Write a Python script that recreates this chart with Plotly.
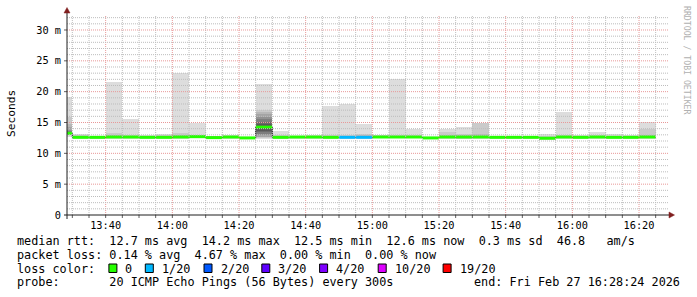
import plotly.graph_objects as go
import pandas as pd

DAY = "2026-02-27"
RANGE_START = "13:28:24"
RANGE_END = "16:28:24"

# 5-minute measurement intervals (start times)
starts = ["13:25", "13:30", "13:35", "13:40", "13:45", "13:50", "13:55", "14:00", "14:05",
          "14:10", "14:15", "14:20", "14:25", "14:30", "14:35", "14:40", "14:45", "14:50",
          "14:55", "15:00", "15:05", "15:10", "15:15", "15:20", "15:25", "15:30", "15:35",
          "15:40", "15:45", "15:50", "15:55", "16:00", "16:05", "16:10", "16:15", "16:20"]

# median rtt (ms)
median = [13.25, 12.6, 12.6, 12.65, 12.65, 12.6, 12.6, 12.65, 12.7, 12.55, 12.65, 12.5,
          14.25, 12.6, 12.65, 12.65, 12.6, 12.6, 12.6, 12.65, 12.65, 12.65, 12.5, 12.65,
          12.65, 12.65, 12.6, 12.6, 12.6, 12.45, 12.65, 12.6, 12.65, 12.6, 12.6, 12.65]

# lost pings out of 20
loss = [0, 0, 0, 0, 0, 0, 0, 0, 0, 0, 0, 0, 0, 0, 0, 0, 0, 1,
        1, 0, 0, 0, 0, 0, 0, 0, 0, 0, 0, 0, 0, 0, 0, 0, 0, 0]

# smoke: highest, 2nd and 3rd highest ping, two lowest pings (ms)
ping_max = [19.2, 13.1, 12.8, 21.6, 15.5, 12.9, 13.1, 23.1, 14.9, 12.8, 12.9, 12.7,
            21.2, 13.7, 12.8, 12.9, 17.7, 18.0, 14.8, 13.0, 22.05, 13.9, 12.7, 13.9,
            14.2, 14.9, 12.8, 12.8, 12.8, 13.2, 16.75, 13.0, 13.5, 13.1, 13.0, 15.1]
ping_2nd = [15.9, 12.9, 12.7, 13.3, 13.0, 12.8, 12.9, 13.3, 13.0, 12.7, 12.8, 12.6,
            17.0, 12.9, 12.7, 12.8, 13.0, 12.9, 13.1, 12.9, 13.0, 12.9, 12.6, 13.5,
            13.2, 14.85, 12.7, 12.7, 12.7, 12.8, 13.0, 12.8, 12.9, 12.8, 12.8, 13.9]
ping_3rd = [14.8, 12.8, 12.7, 13.0, 12.8, 12.7, 12.8, 13.0, 12.9, 12.7, 12.7, 12.6,
            16.7, 12.8, 12.7, 12.7, 12.8, 12.8, 12.9, 12.8, 12.8, 12.8, 12.6, 13.0,
            13.0, 13.1, 12.7, 12.7, 12.7, 12.6, 12.8, 12.7, 12.8, 12.7, 12.7, 13.0]
ping_min = [12.7, 12.3, 12.3, 12.4, 12.4, 12.3, 12.4, 12.4, 12.5, 12.4, 12.4, 12.4,
            12.4, 12.3, 12.4, 12.4, 12.4, 12.4, 12.4, 12.5, 12.5, 12.5, 12.3, 12.4,
            12.3, 12.4, 12.4, 12.4, 12.4, 12.2, 12.4, 12.4, 12.4, 12.4, 12.4, 12.4]
ping_2nd_min = [12.9, 12.45, 12.45, 12.5, 12.5, 12.45, 12.5, 12.5, 12.6, 12.5, 12.5, 12.45,
                12.5, 12.4, 12.5, 12.5, 12.5, 12.5, 12.5, 12.55, 12.55, 12.55, 12.4, 12.5,
                12.4, 12.5, 12.5, 12.5, 12.5, 12.3, 12.5, 12.5, 12.5, 12.5, 12.5, 12.5]

# full 20-ping spreads for the two noisy intervals
pings_1325 = [12.7, 12.9, 13.0, 13.1, 13.1, 13.2, 13.2, 13.2, 13.3, 13.3,
              13.3, 13.4, 13.4, 13.5, 13.6, 13.8, 14.2, 14.8, 15.9, 19.2]
pings_1425 = [12.4, 12.5, 12.6, 12.7, 12.9, 13.1, 13.4, 13.7, 14.0, 14.2,
              14.3, 14.5, 14.8, 15.1, 15.5, 15.9, 16.3, 16.7, 17.0, 21.2]
special = {"13:25": pings_1325, "14:25": pings_1425}

loss_levels = [0, 1, 2, 3, 4, 10, 19]
loss_labels = ["0", "1/20", "2/20", "3/20", "4/20", "10/20", "19/20"]
loss_colors = ["#26ff00", "#00b8ff", "#0059ff", "#5e00ff", "#7e00ff", "#dd00ff", "#ff0000"]

legend_line1 = "median rtt:  12.7 ms avg  14.2 ms max  12.5 ms min  12.6 ms now  0.3 ms sd  46.8   am/s"
legend_line2 = "packet loss: 0.14 % avg  4.67 % max  0.00 % min  0.00 % now"
legend_line3 = "loss color:"
probe_text = "probe:       20 ICMP Echo Pings (56 Bytes) every 300s"
end_text = "end: Fri Feb 27 16:28:24 2026"

# ---------------------------------------------------------------
MONO = "DejaVu Sans Mono"
L, R, T, B = 67, 30, 15, 82
W, H = 697, 297
PW, PH = W - L - R, H - T - B


def px(x):
    return (x - L) / PW


def py(y):
    return (H - B - y) / PH


step = pd.Timedelta(minutes=5)
st = [pd.Timestamp(f"{DAY} {s}") for s in starts]
fmt = "%Y-%m-%d %H:%M:%S"
centers = [(s + step / 2).strftime(fmt) for s in st]
x_start = [s.strftime(fmt) for s in st]
x_end = [(s + step).strftime(fmt) for s in st]

pings = []
for i, s in enumerate(starts):
    if s in special:
        p = sorted(special[s])
    else:
        p = sorted([ping_min[i], ping_2nd_min[i]] + [median[i]] * 15 +
                   [ping_3rd[i], ping_2nd[i], ping_max[i]])
    pings.append(p)

fig = go.Figure()
half = 10
for k in range(1, half + 1):
    g = int(190 / half * (half - k)) + 50
    base = [p[k - 1] for p in pings]
    top = [p[20 - k] for p in pings]
    fig.add_trace(go.Bar(x=centers, y=[t - b for t, b in zip(top, base)], base=base,
                         width=300000, marker=dict(color=f"rgb({g},{g},{g})", line=dict(width=0)),
                         showlegend=False, hoverinfo="skip"))

# thin dark median step
fig.add_trace(go.Scatter(x=x_start + [x_end[-1]], y=median + [median[-1]], mode="lines",
                         line=dict(color="#202020", width=1, shape="hv"),
                         showlegend=False, hoverinfo="skip"))

# coloured median segments by loss
def loss_color(n):
    idx = 0
    for j, lv in enumerate(loss_levels):
        if n >= lv:
            idx = j
    return loss_colors[idx]

segs = {}
for i in range(len(starts)):
    c = loss_color(loss[i])
    xs, ys = segs.setdefault(c, ([], []))
    xs += [x_start[i], x_end[i], None]
    ys += [median[i], median[i], None]
for c, (xs, ys) in segs.items():
    fig.add_trace(go.Scatter(x=xs, y=ys, mode="lines", line=dict(color=c, width=3),
                             showlegend=False, hoverinfo="skip"))

shapes = []
MINOR = "#bdbdbd"
MAJOR = "#e89898"
# vertical grid + x ticks
t = st[1]
t_end = pd.Timestamp(f"{DAY} {RANGE_END}")
while t < t_end:
    major = (t.minute % 20 == 0)
    ts = t.strftime(fmt)
    shapes.append(dict(type="line", xref="x", yref="paper", x0=ts, x1=ts, y0=0, y1=1,
                       line=dict(color=MAJOR if major else MINOR, width=1, dash="1px,1px"),
                       layer="above"))
    shapes.append(dict(type="line", xref="x", yref="paper", x0=ts, x1=ts, y0=py(215), y1=py(218),
                       line=dict(color="#606060", width=1), layer="above"))
    t += step
# horizontal grid
for v in range(1, 33):
    major = (v % 5 == 0)
    shapes.append(dict(type="line", xref="paper", yref="y", x0=0, x1=px(669), y0=v, y1=v,
                       line=dict(color=MAJOR if major else MINOR, width=1, dash="1px,1px"),
                       layer="above"))
    if major:
        shapes.append(dict(type="line", xref="paper", yref="y", x0=px(64), x1=px(67), y0=v, y1=v,
                           line=dict(color="#606060", width=1), layer="above"))
# axes
shapes.append(dict(type="line", xref="paper", yref="paper", x0=px(64), x1=px(670), y0=0, y1=0,
                   line=dict(color="#1f1f1f", width=1), layer="above"))
shapes.append(dict(type="line", xref="paper", yref="paper", x0=0, x1=0, y0=py(219), y1=py(12),
                   line=dict(color="#1f1f1f", width=1), layer="above"))
shapes.append(dict(type="path", xref="paper", yref="paper",
                   path=f"M {px(669)},{py(212)} L {px(674.5)},{py(215)} L {px(669)},{py(218)} Z",
                   fillcolor="#801f1f", line=dict(color="#801f1f", width=0.5), layer="above"))
shapes.append(dict(type="path", xref="paper", yref="paper",
                   path=f"M {px(64)},{py(13)} L {px(67)},{py(7.5)} L {px(70)},{py(13)} Z",
                   fillcolor="#801f1f", line=dict(color="#801f1f", width=0.5), layer="above"))

annotations = []
def text(s, x, y, size=11.8, xanchor="left", color="#000000", angle=0, yanchor="middle"):
    annotations.append(dict(text=s, x=px(x), y=py(y), xref="paper", yref="paper",
                            xanchor=xanchor, yanchor=yanchor, showarrow=False, borderpad=0,
                            textangle=angle, font=dict(family=MONO, size=size, color=color)))

text(legend_line1, 16, 241)
text(legend_line2, 16, 255)
text(legend_line3, 16, 268.5)
text(probe_text, 16, 282)
text(end_text, 681, 282, xanchor="right")
box_x = [108.9, 145.3, 204, 261.8, 319.6, 378.2, 443.1]
for bx, lab, col in zip(box_x, loss_labels, loss_colors):
    shapes.append(dict(type="rect", xref="paper", yref="paper", x0=px(bx), x1=px(bx + 8),
                       y0=py(272.5), y1=py(264), fillcolor=col, line=dict(color="#000000", width=1)))
    text(lab, bx + 15.5, 268.5)

text("Seconds", 11, 114, size=11.2, xanchor="center", angle=-90)
text("RRDTOOL / TOBI OETIKER", 687, 60, size=8.2, xanchor="center", angle=90, color="#b0b0b0")

yvals = [0, 5, 10, 15, 20, 25, 30]
ytext = ["0"] + [f"{v} m" for v in yvals[1:]]
xticks = [x_start[i] for i, s in enumerate(starts) if int(s[-2:]) % 20 == 0]
xtext = [s for s in starts if int(s[-2:]) % 20 == 0]

fig.update_layout(
    width=W, height=H, margin=dict(l=L, r=R, t=T, b=B, pad=0),
    paper_bgcolor="#ffffff", plot_bgcolor="#ffffff", barmode="overlay", bargap=0,
    showlegend=False, shapes=shapes, annotations=annotations,
    xaxis=dict(type="date", range=[f"{DAY} {RANGE_START}", f"{DAY} {RANGE_END}"],
               tickmode="array", tickvals=xticks, ticktext=xtext, showgrid=False,
               zeroline=False, showline=False, ticks="", ticklabelstandoff=3,
               tickfont=dict(family=MONO, size=10.3, color="#000000"), fixedrange=True),
    yaxis=dict(range=[0, PH / 6.167], tickmode="array", tickvals=yvals, ticktext=ytext,
               showgrid=False, zeroline=False, showline=False, ticks="", ticklabelstandoff=5,
               tickfont=dict(family=MONO, size=10.3, color="#000000"), fixedrange=True),
)

fig.write_html("out.html")
